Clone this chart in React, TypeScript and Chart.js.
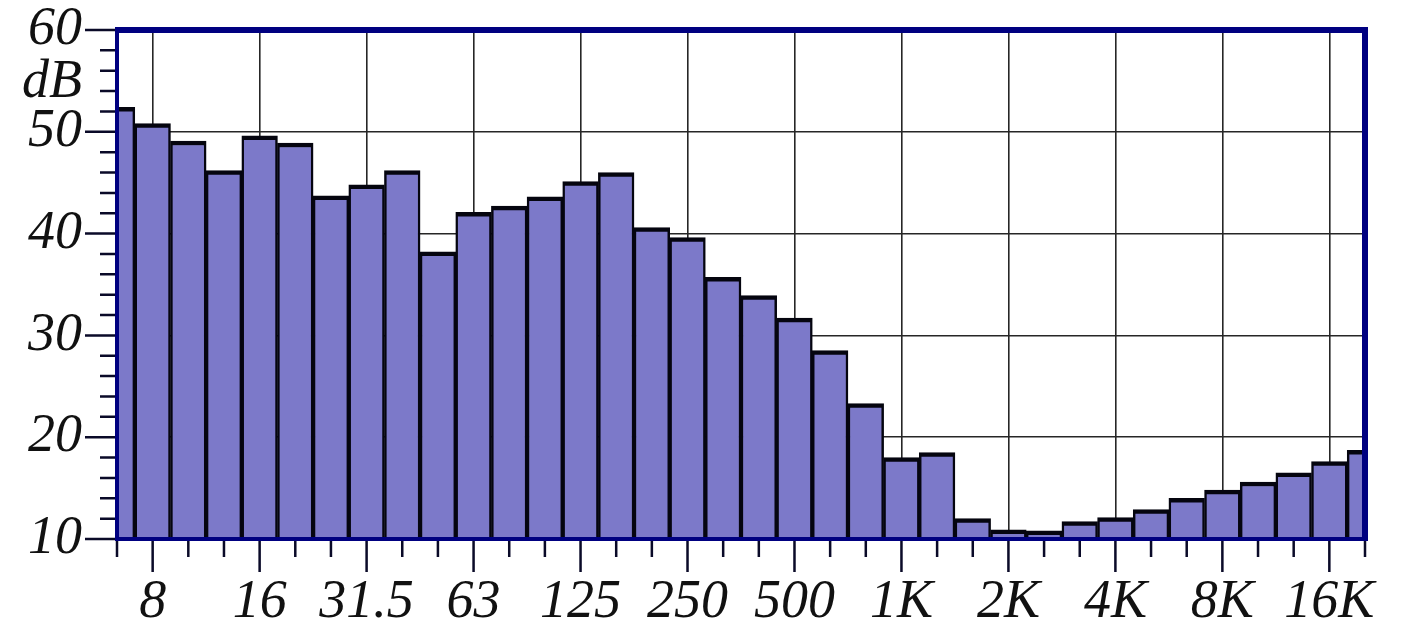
import { useEffect, useRef } from 'react';
import { Chart, registerables } from 'chart.js';

Chart.register(...registerables);

// 1/3-octave band centres (Hz)
const bands = ['6.3', '8', '10', '12.5', '16', '20', '25', '31.5', '40', '50', '63', '80', '100', '125', '160', '200', '250', '315', '400', '500', '630', '800', '1K', '1.25K', '1.6K', '2K', '2.5K', '3.15K', '4K', '5K', '6.3K', '8K', '10K', '12.5K', '16K', '20K'];
// band levels (dB)
const levels = [52.4, 50.8, 49.1, 46.2, 49.6, 48.9, 43.7, 44.8, 46.2, 38.2, 42.1, 42.7, 43.6, 45.1, 46.0, 40.6, 39.6, 35.7, 33.9, 31.7, 28.5, 23.3, 18.0, 18.5, 12.0, 10.9, 10.8, 11.7, 12.1, 12.9, 14.0, 14.8, 15.6, 16.5, 17.6, 18.7];
// labelled octave ticks
const octaveLabels = ['8', '16', '31.5', '63', '125', '250', '500', '1K', '2K', '4K', '8K', '16K'];
const yMin = 10;
const yMax = 60;
const yStep = 2;
const yMajor = 10;
const unitLabel = 'dB';

const FONT = '"Liberation Serif", "Times New Roman", serif';

export default function App() {
  const ref = useRef<HTMLCanvasElement>(null);

  useEffect(() => {
    const canvas = ref.current!;
    const decor = {
      id: 'decor',
      afterDatasetsDraw(chart: any) {
        const { ctx, chartArea: a, scales } = chart;
        const x = scales.x;
        const y = scales.y;
        ctx.save();
        ctx.strokeStyle = '#0a0a28';
        ctx.lineWidth = 2.5;
        ctx.beginPath();
        bands.forEach((b, i) => {
          const px = x.getPixelForValue(i);
          const len = octaveLabels.includes(b) ? 33 : 18;
          ctx.moveTo(px, a.bottom);
          ctx.lineTo(px, a.bottom + len);
        });
        for (let v = yMin; v <= yMax; v += yStep) {
          const py = y.getPixelForValue(v);
          const len = v % yMajor === 0 ? 32 : 17;
          ctx.moveTo(a.left - len, py);
          ctx.lineTo(a.left, py);
        }
        ctx.stroke();

        ctx.strokeStyle = '#000080';
        ctx.lineWidth = 4;
        ctx.beginPath();
        ctx.moveTo(a.left, a.top);
        ctx.lineTo(a.left, a.bottom);
        ctx.lineTo(a.right, a.bottom);
        ctx.stroke();
        ctx.lineWidth = 6;
        ctx.beginPath();
        ctx.moveTo(a.left - 2, a.top);
        ctx.lineTo(a.right, a.top);
        ctx.lineTo(a.right, a.bottom + 2);
        ctx.stroke();

        ctx.fillStyle = '#111';
        ctx.font = `italic 54px ${FONT}`;
        ctx.textAlign = 'right';
        ctx.textBaseline = 'alphabetic';
        ctx.fillText(unitLabel, a.left - 35, y.getPixelForValue(53.4));
        ctx.restore();
      },
    };

    const chart = new Chart(canvas, {
      type: 'bar',
      data: {
        labels: bands,
        datasets: [
          {
            data: levels,
            backgroundColor: 'rgb(124,121,201)',
            borderColor: '#05050f',
            borderWidth: { top: 4.5, left: 2.5, right: 2.5, bottom: 0 },
            borderSkipped: 'start',
            categoryPercentage: 1,
            barPercentage: 1,
            clip: 0,
          } as any,
        ],
      },
      options: {
        responsive: false,
        animation: false,
        layout: { padding: { left: 0, top: 30, right: 46, bottom: 0 } },
        plugins: { legend: { display: false }, tooltip: { enabled: false } },
        scales: {
          x: {
            type: 'category',
            offset: false,
            grid: {
              offset: false,
              drawTicks: false,
              lineWidth: 1.6,
              color: (c: any) => (octaveLabels.includes(bands[c.index]) ? '#262626' : 'rgba(0,0,0,0)'),
            },
            border: { display: false },
            ticks: {
              autoSkip: false,
              maxRotation: 0,
              padding: 37,
              color: '#111',
              font: { family: FONT, size: 54, style: 'italic', lineHeight: 1 },
              callback: (_v: any, i: number) => (octaveLabels.includes(bands[i]) ? bands[i] : ''),
            },
            afterFit: (s: any) => {
              s.height = 98;
              s.paddingLeft = 0;
              s.paddingRight = 0;
            },
          },
          y: {
            min: yMin,
            max: yMax,
            grid: {
              drawTicks: false,
              lineWidth: 1.6,
              color: (c: any) => (c.tick && c.tick.value % yMajor === 0 ? '#262626' : 'rgba(0,0,0,0)'),
            },
            border: { display: false },
            ticks: {
              stepSize: yStep,
              autoSkip: false,
              padding: 35,
              color: '#111',
              font: { family: FONT, size: 54, style: 'italic', lineHeight: 1 },
              callback: (v: any) => (Number(v) % yMajor === 0 ? String(v) : ''),
            },
            afterFit: (s: any) => {
              s.width = 117;
              s.paddingTop = 0;
              s.paddingBottom = 0;
            },
          },
        },
      } as any,
      plugins: [decor],
    });
    return () => chart.destroy();
  }, []);

  return (
    <div style={{ position: 'absolute', left: 0, top: 0, width: 1411, height: 637, background: '#fff' }}>
      <canvas ref={ref} width={1411} height={637} />
    </div>
  );
}
